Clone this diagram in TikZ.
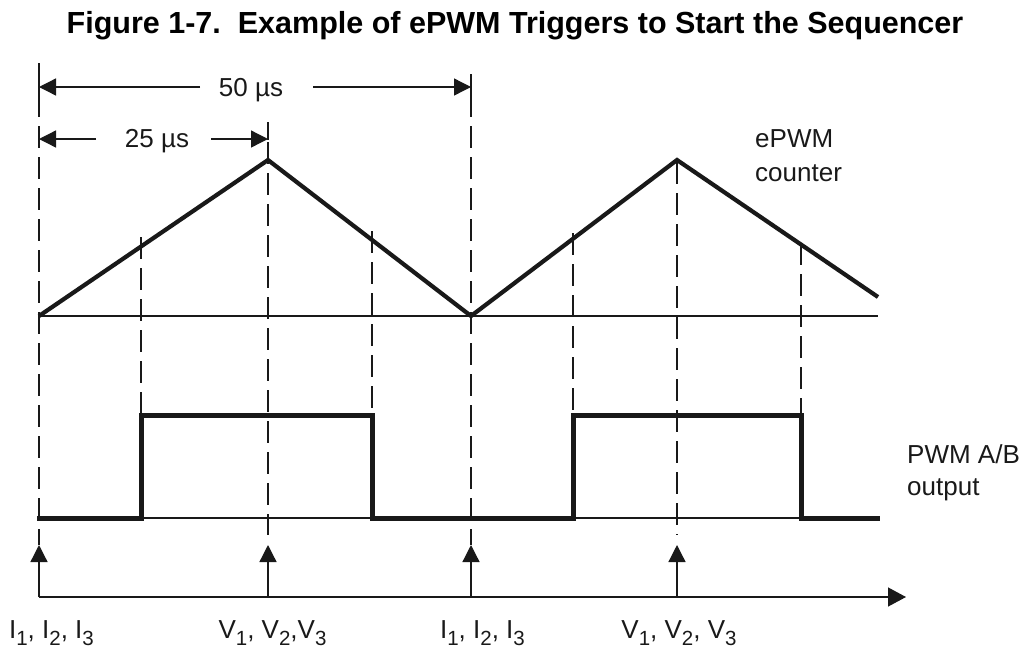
\documentclass[tikz,border=0pt]{standalone}
\usepackage{fontspec}
\setmainfont{Liberation Sans}
\usetikzlibrary{arrows.meta}
\newcommand\sbs[1]{\raisebox{-7pt}{\fontsize{20.5}{20.5}\selectfont #1}}
\begin{document}
\begin{tikzpicture}[x=1pt,y=-1pt,
  thin line/.style={line width=1.3pt,black!90},
  dashline/.style={line width=1.2pt,black!90,dash pattern=on 22pt off 9pt},
  wave/.style={line width=4.2pt,black!90,line join=miter},
  pwm/.style={line width=5pt,black!90,line join=miter},
  tri/.style={-{Triangle[length=17pt,width=17pt]}},
  lbl/.style={font=\fontsize{26}{30}\selectfont,inner sep=0pt,text=black!90},
  ttl/.style={font=\fontsize{30.5}{34}\selectfont\bfseries,inner sep=0pt}]
\useasboundingbox (0,0) rectangle (1030,665);
\node[ttl,anchor=base] (title) at (515,33) {Figure 1-7.\ \ Example of ePWM Triggers to Start the Sequencer};
% key coordinates
\coordinate (c0) at (39,316);
\coordinate (p1) at (268,160);
\coordinate (v1) at (471,316);
\coordinate (p2) at (677,160);
\coordinate (cend) at (878,297);
\coordinate (bl0) at (39,316);
\coordinate (bl1) at (878,316);
% counter baseline and waveform
\draw[thin line] (bl0) -- (bl1);
\draw[wave] (c0) -- (p1) -- (v1) -- (p2) -- (cend);
% PWM baseline and waveform
\coordinate (lo0) at (39,518);
\coordinate (lo1) at (878,518);
\draw[thin line] (lo0) -- (lo1);
\draw[pwm] (37,518) -- (141,518) -- (141,415) -- (372,415) -- (372,518) -- (573,518) -- (573,415) -- (801,415) -- (801,518) -- (880,518);
% ticks and dashed lines
\draw[thin line] (39,63) -- (39,95);
\draw[dashline] (39,95) -- (39,545);
\draw[thin line] (471,74) -- (471,95);
\draw[dashline] (471,95) -- (471,545);
\draw[thin line] (268,122) -- (268,140);
\draw[dashline] (268,142) -- (268,535);
\draw[dashline] (677,162) -- (677,535);
\draw[dashline] (141,237) -- (141,415);
\draw[dashline] (372,231) -- (372,415);
\draw[dashline] (573,233) -- (573,415);
\draw[dashline] (801,243) -- (801,415);
% dimension arrows
\node[lbl,anchor=base] (t50) at (251,96) {50 µs};
\coordinate (a50l) at (39,87);
\coordinate (a50r) at (471,87);
\draw[thin line,tri] (200,87) -- (a50l);
\draw[thin line,tri] (313,87) -- (a50r);
\node[lbl,anchor=base] (t25) at (157,147) {25 µs};
\coordinate (a25l) at (39,139);
\coordinate (a25r) at (268,139);
\draw[thin line,tri] (96,139) -- (a25l);
\draw[thin line,tri] (211,139) -- (a25r);
% labels
\node[lbl,anchor=base west] (cnt1) at (755,147) {ePWM};
\node[lbl,anchor=base west] (cnt2) at (755,181) {counter};
\node[lbl,anchor=base west] (out1) at (907,463) {PWM A/B};
\node[lbl,anchor=base west] (out2) at (907,495) {output};
% time axis and triggers
\coordinate (ax0) at (39,597);
\coordinate (axe) at (906,597);
\draw[thin line,-{Triangle[length=18pt,width=19pt]}] (ax0) -- (axe);
\coordinate (g1) at (39,597);
\coordinate (g2) at (268,597);
\coordinate (g3) at (471,597);
\coordinate (g4) at (677,597);
\draw[thin line,tri] (g1) -- (39,545);
\draw[thin line,tri] (g2) -- (268,545);
\draw[thin line,tri] (g3) -- (471,545);
\draw[thin line,tri] (g4) -- (677,545);
\node[lbl,anchor=base] (l1) at (51.5,638) {I\sbs{1}, I\sbs{2}, I\sbs{3}};
\node[lbl,anchor=base] (l2) at (272.5,638) {V\sbs{1}, V\sbs{2},V\sbs{3}};
\node[lbl,anchor=base] (l3) at (482.5,638) {I\sbs{1}, I\sbs{2}, I\sbs{3}};
\node[lbl,anchor=base] (l4) at (679,638) {V\sbs{1}, V\sbs{2}, V\sbs{3}};
\end{tikzpicture}
\end{document}
